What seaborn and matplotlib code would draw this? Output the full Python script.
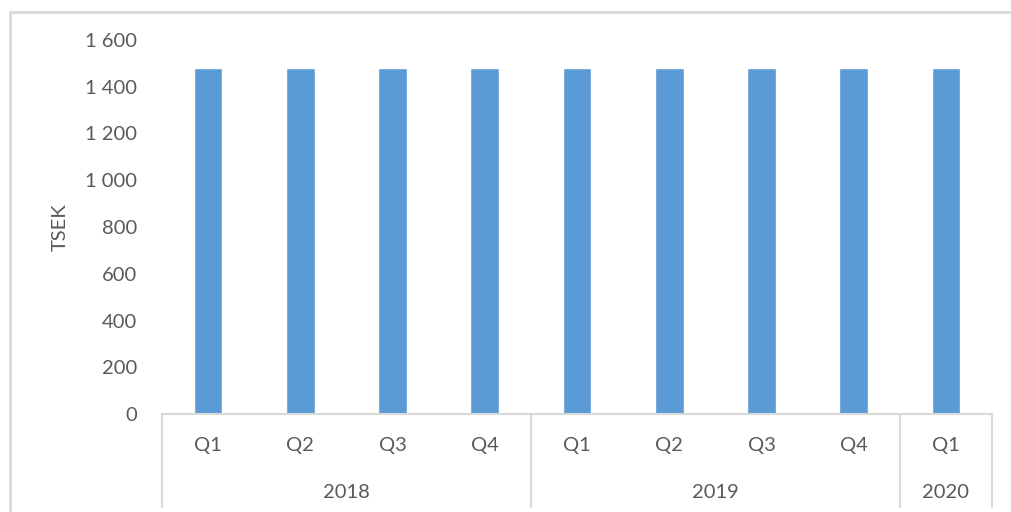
import pandas as pd
import seaborn as sns
import matplotlib.pyplot as plt
from matplotlib.ticker import FuncFormatter
from matplotlib.patches import Rectangle
from matplotlib.transforms import blended_transform_factory

years = ['2018', '2018', '2018', '2018', '2019', '2019', '2019', '2019', '2020']
quarters = ['Q1', 'Q2', 'Q3', 'Q4', 'Q1', 'Q2', 'Q3', 'Q4', 'Q1']
values = [1480, 1480, 1480, 1480, 1480, 1480, 1480, 1480, 1480]
year_labels = ['2018', '2019', '2020']
y_label = 'TSEK'

BAR = '#5b9bd5'
TEXT = '#595959'
GRID = '#d9d9d9'
FS = 14.5

#
#
#
def space_thousands(x, pos):
    return '{:,.0f}'.format(x).replace(',', ' ')

#
#
#
if __name__ == '__main__':
    df = pd.DataFrame({'year': years, 'quarter': quarters, 'value': values})
    df['period'] = df['year'] + ' ' + df['quarter']

    sns.set_style('white')
    plt.rcParams['font.family'] = ['Lato', 'DejaVu Sans']

    fig = plt.figure(figsize=(10.12, 5.12), dpi=100)
    ax = fig.add_axes([162 / 1012, 98 / 512, 830 / 1012, 374 / 512])

    sns.barplot(data=df, x='period', y='value', order=list(df['period']),
                color=BAR, width=0.31, saturation=1, ax=ax)

    ax.set_xlim(-0.5, len(df) - 0.5)
    ax.set_ylim(0, 1600)
    ax.set_yticks(range(0, 1601, 200))
    ax.yaxis.set_major_formatter(FuncFormatter(space_thousands))
    ax.tick_params(axis='y', length=0, pad=18, labelsize=FS, labelcolor=TEXT)
    ax.set_xticks([])
    ax.set_xlabel('')
    ax.set_ylabel(y_label, fontsize=FS, color=TEXT, labelpad=12)
    for s in ax.spines.values():
        s.set_visible(False)

    # multi-level category axis
    tr = blended_transform_factory(ax.transData, ax.transAxes)
    ax.plot([-0.5, len(df) - 0.5], [0, 0], transform=tr, color=GRID,
            lw=1.5, clip_on=False)
    for i, q in enumerate(df['quarter']):
        ax.text(i, -0.083, q, transform=tr, ha='center', va='center',
                fontsize=FS, color=TEXT)
    edges = [-0.5]
    for y in year_labels:
        idx = df.index[df['year'] == y]
        ax.text((idx.min() + idx.max()) / 2, -0.209, y, transform=tr,
                ha='center', va='center', fontsize=FS, color=TEXT)
        edges.append(idx.max() + 0.5)
    for e in edges:
        ax.plot([e, e], [0, -0.249], transform=tr, color=GRID, lw=1.5,
                clip_on=False)

    # chart area border
    fig.patches.append(Rectangle((10 / 1012, -0.1), 1.2, 1.1 - 12 / 512,
                                 transform=fig.transFigure, fill=False,
                                 edgecolor=GRID, lw=2))

    plt.savefig('out.png', dpi=100)
